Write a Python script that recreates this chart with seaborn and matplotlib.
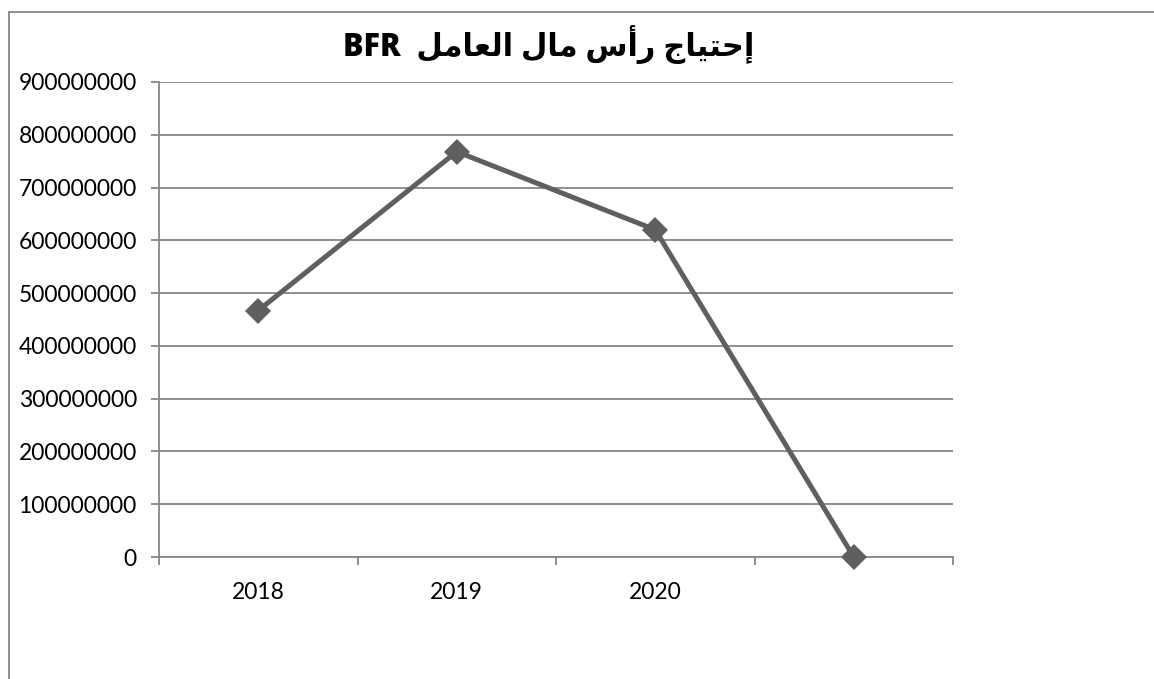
import numpy as np
import pandas as pd
import seaborn as sns
import matplotlib.pyplot as plt
from matplotlib.lines import Line2D

# data
years = ["2018", "2019", "2020", ""]
bfr = [467000000, 768000000, 620000000, 0]

# Arabic title, shaped by hand with presentation forms (visual left-to-right order)
ar_word4 = "\uFEDE\uFEE3\uFE8E\uFECC\uFEDF\uFE8D"  # العامل
ar_word3 = "\uFEDD\uFE8E\uFEE3"  # مال
ar_word2 = "\uFEB1\uFE83\uFEAD"  # رأس
ar_word1 = "\uFE9D\uFE8E\uFEF4\uFE98\uFEA3\uFE87"  # إحتياج
title = "BFR  " + " ".join([ar_word4, ar_word3, ar_word2, ar_word1])

df = pd.DataFrame({"year": range(len(years)), "value": bfr})

sns.set_theme(style="white")
plt.rcParams["font.family"] = ["Lato", "DejaVu Sans"]

grey = "#868686"
fig = plt.figure(figsize=(11.54, 6.79), dpi=100)
ax = fig.add_axes([159 / 1154, 1 - 557 / 679, (953 - 159) / 1154, (557 - 82) / 679])

sns.lineplot(data=df, x="year", y="value", ax=ax, color="#5f5f5f", linewidth=3.6,
             marker="D", markersize=13, markeredgewidth=0, sort=False)
for ln in ax.lines:
    ln.set_clip_on(False)
    ln.set_zorder(5)

ax.set_xlim(-0.5, 3.5)
ax.set_ylim(0, 900000000)
ax.set_yticks(np.arange(0, 900000001, 100000000))
ax.set_yticklabels([str(v) for v in range(0, 900000001, 100000000)])
ax.yaxis.grid(True, color=grey, linewidth=1.3)
ax.set_axisbelow(True)

ax.set_xticks(np.arange(-0.5, 4, 1))
ax.set_xticklabels([])
ax.set_xticks(range(len(years)), minor=True)
ax.set_xticklabels(years, minor=True)
ax.tick_params(axis="x", which="major", length=6, width=1.3, color=grey, direction="out", bottom=True)
ax.tick_params(axis="x", which="minor", length=0, pad=18, labelsize=16.5, labelcolor="black")
ax.tick_params(axis="y", length=6, width=1.3, color=grey, direction="out", left=True, pad=10,
               labelsize=16.5, labelcolor="black")

for side in ["top", "right"]:
    ax.spines[side].set_visible(False)
for side in ["left", "bottom"]:
    ax.spines[side].set_color(grey)
    ax.spines[side].set_linewidth(1.3)

ax.set_xlabel("")
ax.set_ylabel("")

fig.text(549 / 1154, 1 - 45 / 679, title, ha="center", va="center", fontsize=22,
         fontweight="heavy", color="black", family=["Open Sans", "DejaVu Sans"])

# chart area border (left and top edges visible)
fig.add_artist(Line2D([9 / 1154, 9 / 1154], [0, 1 - 12 / 679], transform=fig.transFigure,
                      color=grey, linewidth=1.3))
fig.add_artist(Line2D([9 / 1154, 1], [1 - 12 / 679, 1 - 12 / 679], transform=fig.transFigure,
                      color=grey, linewidth=1.3))

fig.savefig("out.png", dpi=100)
